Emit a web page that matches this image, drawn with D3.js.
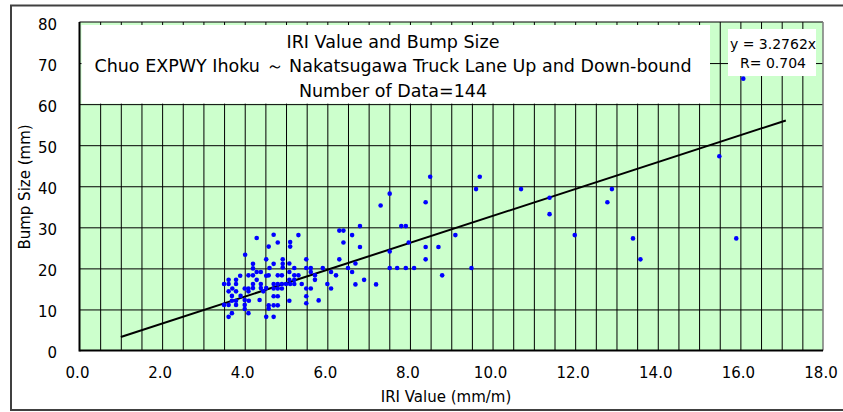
<!DOCTYPE html>
<html>
<head>
<meta charset="utf-8">
<script src="https://cdn.jsdelivr.net/npm/d3@7"></script>
<style>
  html, body { margin: 0; padding: 0; background: #ffffff; }
  svg { display: block; }
  text { font-family: "DejaVu Sans", sans-serif; fill: #000; }
</style>
</head>
<body>
<svg id="chart" width="843" height="412"></svg>
<script>
// IRI (mm/m) against measured bump size (mm), one entry per survey point
const iri = [
  16.07, 15.49, 15.90, 13.58, 13.40, 12.89, 12.78, 11.99, 11.38, 11.38,
  10.69, 9.69, 9.60, 9.49, 9.10, 8.78, 8.69, 8.49, 8.38, 8.38,
  8.38, 8.10, 7.97, 7.90, 7.79, 7.90, 7.69, 7.51, 7.51, 7.51,
  7.29, 7.18, 6.89, 6.79, 6.79, 6.68, 6.68, 6.60, 6.60, 6.50,
  6.39, 6.29, 6.39, 6.29, 6.21, 6.09, 6.09, 5.89, 5.79, 5.70,
  5.60, 5.60, 5.60, 5.49, 5.49, 5.49, 5.49, 5.49, 5.38, 5.30,
  5.30, 5.20, 5.20, 5.10, 5.10, 5.08, 5.08, 5.08, 5.10, 5.08,
  4.92, 4.92, 4.92, 4.90, 4.90, 4.90, 4.80, 4.80, 4.80, 4.80,
  4.80, 4.70, 4.70, 4.70, 4.70, 4.70, 4.70, 4.70, 4.58, 4.58,
  4.58, 4.58, 4.52, 4.52, 4.52, 4.52, 4.39, 4.39, 4.39, 4.36,
  4.29, 4.29, 4.20, 4.20, 4.20, 4.20, 4.20, 4.09, 4.09, 4.09,
  4.09, 4.01, 4.00, 4.00, 4.00, 4.00, 3.89, 3.79, 3.79, 3.79,
  3.79, 3.79, 3.69, 3.69, 3.69, 3.61, 3.61, 3.61, 3.61, 3.61,
  3.50, 3.50, 5.20, 4.60, 4.80, 5.00, 4.29, 3.90, 4.45, 5.20,
  5.70, 6.00, 4.10, 3.70
];
const bump = [
  66.2, 47.3, 27.3, 22.2, 27.3, 39.3, 36.1, 28.1, 37.2, 33.2,
  39.3, 42.3, 39.3, 20.1, 28.1, 18.3, 25.2, 42.3, 36.1, 25.2,
  22.2, 20.1, 26.3, 30.3, 30.3, 20.1, 20.1, 20.1, 24.1, 38.2,
  35.3, 16.1, 17.2, 30.3, 25.2, 21.2, 16.1, 28.1, 19.1, 20.1,
  29.2, 29.2, 26.3, 22.2, 18.3, 19.1, 15.1, 20.1, 12.2, 17.2,
  20.1, 19.1, 15.1, 20.1, 22.2, 15.1, 13.2, 11.5, 16.2, 28.1,
  18.3, 18.3, 16.2, 26.4, 25.3, 21.2, 19.1, 17.2, 16.2, 12.1,
  22.2, 21.1, 20.2, 18.3, 16.2, 15.1, 26.3, 16.2, 15.1, 13.2,
  11.0, 28.2, 21.1, 16.2, 15.1, 13.2, 11.0, 8.2, 25.3, 18.3,
  11.0, 10.2, 22.2, 18.2, 15.2, 8.2, 19.1, 16.2, 15.2, 12.3,
  27.4, 19.1, 21.1, 20.0, 18.3, 16.2, 15.2, 18.3, 15.1, 14.4,
  9.1, 23.3, 15.1, 12.3, 11.1, 10.1, 18.2, 17.2, 16.2, 14.4,
  12.1, 11.1, 13.3, 12.1, 9.1, 17.2, 16.2, 14.4, 11.1, 8.2,
  16.2, 11.1, 17.2, 20.1, 18.3, 16.2, 17.2, 13.3, 14.4, 20.1,
  18.3, 16.2, 12.1, 15.1
];

// Regression through the origin and its extent
const slope = 3.2762;
const rValue = 0.704;
const fitRange = [1.0, 17.1];

const titleLines = [
  "IRI Value and Bump Size",
  "Chuo EXPWY Ihoku ～ Nakatsugawa Truck Lane Up and Down-bound",
  "Number of Data=144"
];
const xTicks = [0, 2, 4, 6, 8, 10, 12, 14, 16, 18];
const yTicks = [0, 10, 20, 30, 40, 50, 60, 70, 80];
const xLabel = "IRI Value (mm/m)";
const yLabel = "Bump Size (mm)";

const svg = d3.select("#chart");
const plot = { left: 79.5, right: 823, top: 22, bottom: 350.5 };

const x = d3.scaleLinear().domain([0, 18]).range([plot.left, plot.right]);
const y = d3.scaleLinear().domain([0, 80]).range([plot.bottom, plot.top]);

// Outer frame of the chart
svg.append("rect")
  .attr("x", 11).attr("y", 5.5)
  .attr("width", 860).attr("height", 404.5)
  .attr("fill", "#ffffff")
  .attr("stroke", "#404040").attr("stroke-width", 2);

// Plot background
svg.append("rect")
  .attr("x", plot.left).attr("y", plot.top)
  .attr("width", plot.right - plot.left).attr("height", plot.bottom - plot.top)
  .attr("fill", "#ccffcc");

// Vertical grid every 0.5, horizontal grid every 10
const vGrid = d3.range(0.5, 18, 0.5);
const hGrid = d3.range(10, 80, 10);
svg.append("g")
  .attr("transform", `translate(0,${plot.bottom})`)
  .call(d3.axisBottom(x).tickValues(vGrid).tickSize(-(plot.bottom - plot.top)).tickFormat(""))
  .call(g => g.select(".domain").remove())
  .call(g => g.selectAll("line").attr("stroke", "#000").attr("stroke-width", 1));
svg.append("g")
  .attr("transform", `translate(${plot.left},0)`)
  .call(d3.axisLeft(y).tickValues(hGrid).tickSize(-(plot.right - plot.left)).tickFormat(""))
  .call(g => g.select(".domain").remove())
  .call(g => g.selectAll("line").attr("stroke", "#000").attr("stroke-width", 1));

// Title panel
svg.append("rect")
  .attr("x", plot.left + 2).attr("y", 25)
  .attr("width", 710 - plot.left - 2).attr("height", y(60) - 25 - 0.5)
  .attr("fill", "#ffffff");
const titleBaselines = [47.5, 71.5, 96.5];
svg.append("g").selectAll("text")
  .data(titleLines)
  .join("text")
  .attr("x", 393)
  .attr("y", (d, i) => titleBaselines[i])
  .attr("text-anchor", "middle")
  .attr("font-size", 17.5)
  .text(d => d);

// Plot borders
svg.append("line")
  .attr("x1", plot.left).attr("x2", plot.right)
  .attr("y1", plot.top).attr("y2", plot.top)
  .attr("stroke", "#000").attr("stroke-width", 1);
svg.append("line")
  .attr("x1", plot.right).attr("x2", plot.right)
  .attr("y1", plot.top).attr("y2", plot.bottom)
  .attr("stroke", "#7a7a7a").attr("stroke-width", 1.5);

// Trend line
svg.append("line")
  .attr("x1", x(fitRange[0])).attr("y1", y(slope * fitRange[0]))
  .attr("x2", x(fitRange[1])).attr("y2", y(slope * fitRange[1]))
  .attr("stroke", "#000").attr("stroke-width", 2);

// Data points
svg.append("g").selectAll("circle")
  .data(iri.map((v, i) => [v, bump[i]]))
  .join("circle")
  .attr("cx", d => x(d[0]))
  .attr("cy", d => y(d[1]))
  .attr("r", 2.3)
  .attr("fill", "#0000ff");

// Equation panel
svg.append("rect")
  .attr("x", 728).attr("y", 29)
  .attr("width", 88).attr("height", 47)
  .attr("fill", "#ffffff");
svg.append("g").selectAll("text")
  .data([`y = ${slope}x`, `R= ${rValue}`])
  .join("text")
  .attr("x", 773)
  .attr("y", (d, i) => [49.3, 67.5][i])
  .attr("text-anchor", "middle")
  .attr("font-size", 14)
  .text(d => d);

// Axes with tick labels
const xAxis = svg.append("g")
  .attr("transform", `translate(-2.5,${plot.bottom})`)
  .call(d3.axisBottom(x).tickValues(xTicks).tickSize(0).tickPadding(17).tickFormat(d3.format(".1f")));
xAxis.select(".domain").remove();
xAxis.selectAll("text").attr("font-size", 15).attr("font-family", "DejaVu Sans");

const yAxis = svg.append("g")
  .attr("transform", "translate(57,2.5)")
  .call(d3.axisLeft(y).tickValues(yTicks).tickSize(0).tickPadding(0));
yAxis.select(".domain").remove();
yAxis.selectAll("text").attr("font-size", 15).attr("font-family", "DejaVu Sans");

// Axis lines
svg.append("line")
  .attr("x1", plot.left).attr("x2", plot.left)
  .attr("y1", plot.top).attr("y2", plot.bottom + 1)
  .attr("stroke", "#000").attr("stroke-width", 2);
svg.append("line")
  .attr("x1", plot.left).attr("x2", plot.right)
  .attr("y1", plot.bottom).attr("y2", plot.bottom)
  .attr("stroke", "#000").attr("stroke-width", 2);

// Axis titles
svg.append("text")
  .attr("x", 446).attr("y", 402)
  .attr("text-anchor", "middle")
  .attr("font-size", 15)
  .text(xLabel);
svg.append("text")
  .attr("transform", "translate(30,187) rotate(-90)")
  .attr("text-anchor", "middle")
  .attr("font-size", 15)
  .text(yLabel);
</script>
</body>
</html>
